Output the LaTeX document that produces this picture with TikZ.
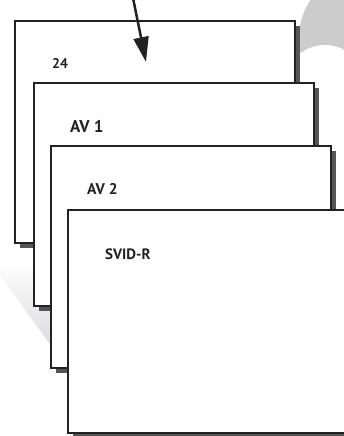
\documentclass[tikz,border=0pt]{standalone}
\usepackage{fontspec}
\setmainfont{PT Sans}
\usetikzlibrary{shadows,arrows.meta}
\definecolor{edge}{HTML}{222222}
\definecolor{shade}{HTML}{555555}
\definecolor{swoosh}{HTML}{CCCCCC}
\definecolor{fadelow}{HTML}{D6D6DA}
\begin{document}
\begin{tikzpicture}[x=1pt,y=-1pt,
  card/.style={draw=edge, line width=2pt, fill=white, rectangle, inner sep=0pt,
    anchor=north west, minimum width=280pt, minimum height=222pt,
    drop shadow={shadow xshift=5pt, shadow yshift=-5pt, fill=shade, opacity=1}},
  lbl/.style={anchor=base west, inner sep=0pt, font=\bfseries, text=edge}]
\useasboundingbox (0,0) rectangle (344,436);
\clip (0,0) rectangle (344,436);
% background decorations
\fill[swoosh] (368,38) circle (69);
\fill[white] (325,85) circle (40);
\shade[top color=white, bottom color=fadelow] (0,262) -- (60,262) -- (60,358) -- (0,275) -- cycle;
% cards
\node[card] (c1) at (14,20) {};
\node[card, minimum height=223pt] (c2) at (33,82) {};
\node[card] (c3) at (50,145) {};
\node[card, minimum height=223pt] (c4) at (67,209) {};
% labels
\node[lbl, font=\bfseries\fontsize{14}{16}\selectfont] (t1) at (52,69) {24};
\node[lbl, font=\bfseries\fontsize{17}{20}\selectfont] (t2) at (70,132) {AV 1};
\node[lbl, font=\bfseries\fontsize{15.5}{18}\selectfont] (t3) at (87,194) {AV 2};
\node[lbl, font=\bfseries\fontsize{15}{18}\selectfont] (t4) at (105,259) {SVID-R};
% arrow
\coordinate (a0) at (133,-2);
\coordinate (a1) at (146,62);
\draw[edge, line width=2.5pt, -{Triangle[length=25pt,width=15pt]}] (a0) -- (a1);
\end{tikzpicture}
\end{document}
